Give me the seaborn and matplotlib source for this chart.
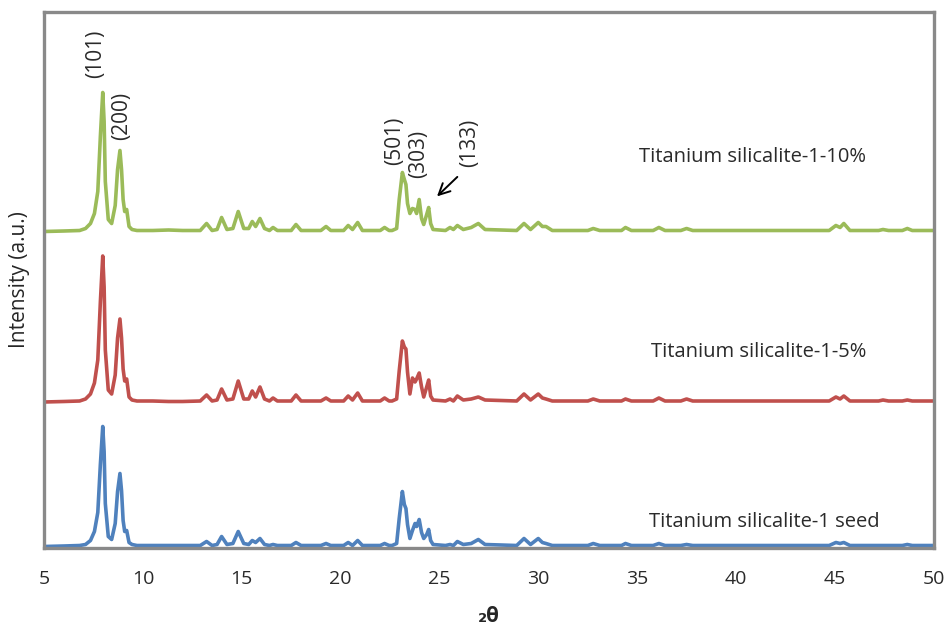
import matplotlib
matplotlib.use("Agg")
import matplotlib.pyplot as plt
import numpy as np
import pandas as pd
import seaborn as sns

# 2theta vertices
TWO_THETA = [
    5.0, 6.0, 6.8, 7.1, 7.35, 7.55, 7.72, 7.85, 7.97, 8.04, 8.1, 8.25, 8.42, 8.6, 8.72, 8.84,
    8.92, 9.0, 9.08, 9.18, 9.3, 9.45, 9.7, 10.5, 11.3, 12.0, 12.9,
    13.22, 13.5, 13.75, 13.98, 14.25, 14.55, 14.82, 15.1, 15.35, 15.53,
    15.7, 15.92, 16.15, 16.4, 16.58, 16.8, 17.5, 17.74, 18.0, 19.0, 19.26, 19.5, 20.15,
    20.38, 20.6, 20.86, 21.1, 22.0, 22.22, 22.45, 22.6, 22.83, 22.96, 23.12, 23.22, 23.3,
    23.38, 23.5, 23.63, 23.76, 23.84, 23.97, 24.09, 24.2, 24.35, 24.45, 24.55, 24.67,
    25.3, 25.53, 25.7, 25.9, 26.2, 26.6, 26.96, 27.3,
    28.9, 29.27, 29.6, 29.99, 30.2, 30.38, 30.7, 32.5, 32.77, 33.1, 34.2, 34.4, 34.7,
    35.8, 36.09, 36.4, 37.2, 37.49, 37.8, 44.7, 45.04, 45.25, 45.44, 45.75, 47.2, 47.42,
    47.7, 48.4, 48.65, 48.9, 50.0,
]

TS1_10 = [
    0, 0.5, 1, 3, 8, 18, 40, 95, 139, 110, 50, 12, 8, 26, 62, 81,
    62, 32, 20, 22, 5, 2, 1, 1, 1.5, 1, 1,
    8, 1, 2, 14, 2, 3, 20, 3, 3, 10,
    5, 13, 3, 1, 4, 1, 1, 7, 1, 1, 5, 1, 1,
    6, 2, 9, 1, 1, 4, 1, 1, 3, 32, 59, 52, 47,
    28, 18, 23, 22, 18, 32, 13, 7, 17, 24, 8, 2,
    1, 4, 2, 6, 2, 4, 8, 2,
    1, 8, 2, 9, 5, 5, 1, 1, 3, 1, 1, 4, 1,
    1, 4, 1, 1, 3, 1, 1, 6, 4, 8, 1, 1, 2,
    1, 1, 3, 1, 1,
]

TS1_5 = [
    0, 0.5, 1, 3, 8, 19, 42, 100, 146, 115, 52, 12, 8, 27, 64, 83,
    64, 33, 21, 23, 5, 2, 1, 1, 0.5, 0.5, 1,
    7, 1, 2, 13, 2, 3, 21, 3, 3, 11,
    5, 15, 3, 1, 4, 1, 1, 7, 1, 1, 4, 1, 1,
    6, 2, 9, 1, 1, 4, 1, 1, 3, 31, 61, 55, 53,
    30, 8, 24, 20, 23, 29, 15, 5, 15, 22, 6, 2,
    1, 3, 1, 6, 2, 3, 5, 2,
    1, 8, 2, 8, 4, 3, 1, 1, 3, 1, 1, 3, 1,
    1, 4, 1, 1, 3, 1, 1, 5, 3, 6, 1, 1, 2,
    1, 1, 2, 1, 1,
]

TS1_SEED = [
    0, 0.5, 1, 2, 6, 15, 34, 82, 120, 95, 43, 10, 7, 23, 55, 73,
    56, 26, 15, 16, 4, 2, 1, 1, 1, 1, 1,
    5, 1, 2, 10, 2, 3, 15, 3, 2, 6,
    4, 8, 2, 1, 2, 1, 1, 4, 1, 1, 3, 1, 1,
    4, 1, 6, 1, 1, 3, 1, 1, 3, 28, 55, 42, 38,
    22, 8, 16, 23, 20, 27, 14, 8, 12, 17, 6, 2,
    1, 2, 1, 5, 2, 3, 7, 2,
    1, 8, 2, 8, 4, 3, 1, 1, 3, 1, 1, 3, 1,
    1, 3, 1, 1, 2, 1, 1, 4, 3, 4, 1, 1, 1,
    1, 1, 2, 1, 1,
]

SERIES = ["Titanium silicalite-1-10%", "Titanium silicalite-1-5%", "Titanium silicalite-1 seed"]
OFFSETS = [316.5, 146, 1.5]
COLORS = ["#9BBB59", "#C0504D", "#4F81BD"]

PEAK_LABELS = ["(101)", "(200)", "(501)", "(303)", "(133)"]
PEAK_LABEL_POS = [(7.63, 494), (8.93, 432), (22.75, 407), (23.92, 394.5), (26.54, 405)]

sns.set_style("white")
plt.rcParams["font.family"] = ["Open Sans", "DejaVu Sans"]

frames = []
for name, vals, off in zip(SERIES, [TS1_10, TS1_5, TS1_SEED], OFFSETS):
    frames.append(pd.DataFrame({
        "two_theta": TWO_THETA,
        "intensity": np.array(vals, dtype=float) + off,
        "sample": name,
    }))
df = pd.concat(frames, ignore_index=True)

fig = plt.figure(figsize=(9.49, 6.3), dpi=100)
ax = fig.add_axes([44 / 949, 1 - 548 / 630, 890 / 949, 536 / 630])

sns.lineplot(
    data=df, x="two_theta", y="intensity", hue="sample", hue_order=SERIES,
    palette=COLORS, estimator=None, sort=False, linewidth=2.6, legend=False, ax=ax,
)

ax.set_xlim(5, 50)
ax.set_ylim(0, 536)
ax.set_xticks(np.arange(5, 51, 5))
ax.set_yticks([])
ax.tick_params(axis="x", length=0, pad=16, labelsize=14, colors="#2a2a2a")
for sp in ax.spines.values():
    sp.set_visible(True)
    sp.set_color("#898989")
    sp.set_linewidth(2.4)

ax.set_xlabel("₂θ", fontsize=15, fontweight="bold", labelpad=13)
ax.set_ylabel("Intensity (a.u.)", fontsize=15, labelpad=10)

for txt, (x, y) in zip(PEAK_LABELS, PEAK_LABEL_POS):
    ax.text(x, y, txt, rotation=90, ha="center", va="center", fontsize=15, color="#2a2a2a")

ax.annotate("", xy=(24.77, 349.7), xytext=(26.0, 373),
            arrowprops=dict(arrowstyle="->", color="black", lw=1.4, mutation_scale=20))

SAMPLE_LABEL_POS = [(40.84, 391), (41.15, 196), (41.4, 26)]
for name, (x, y) in zip(SERIES, SAMPLE_LABEL_POS):
    ax.text(x, y, name, ha="center", va="center", fontsize=14.5, color="#2a2a2a")

fig.savefig("out.png", dpi=100)
